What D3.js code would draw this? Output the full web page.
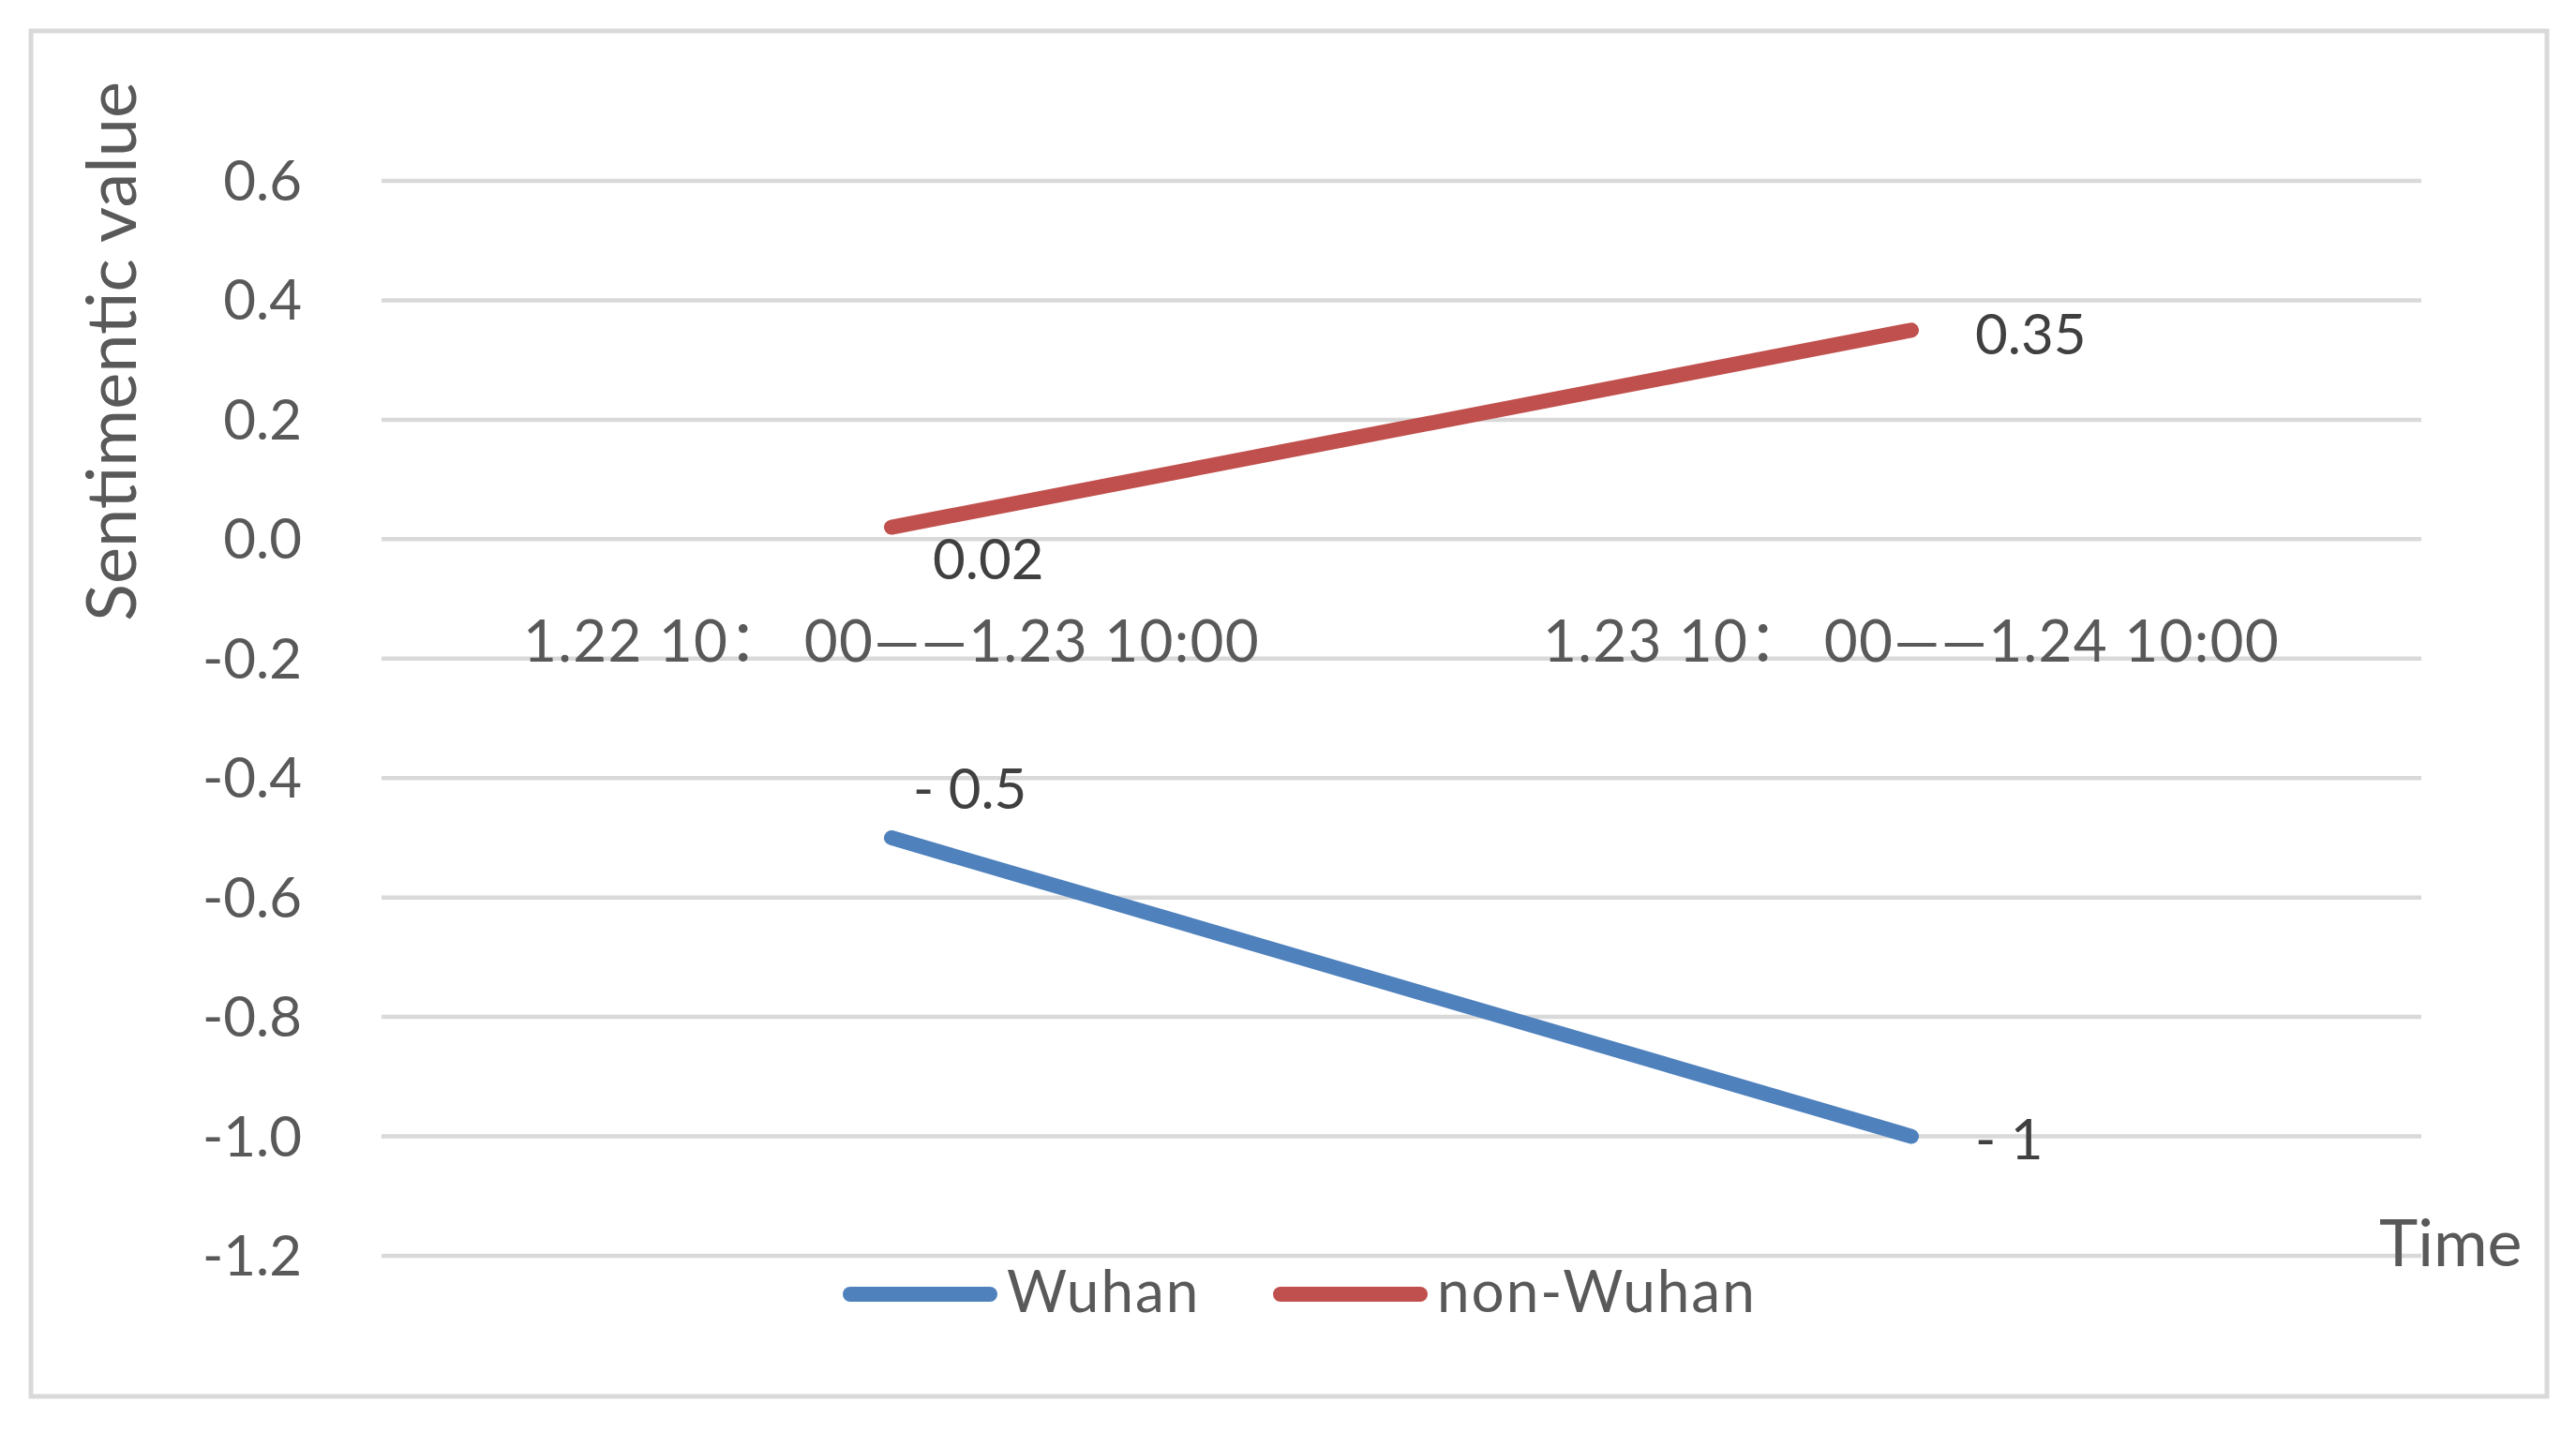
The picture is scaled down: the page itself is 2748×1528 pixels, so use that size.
<!DOCTYPE html>
<html>
<head>
<meta charset="utf-8">
<script src="https://cdn.jsdelivr.net/npm/d3@7"></script>
<style>
  body { margin: 0; background: #fff; }
  text { font-family: Lato, "Noto Sans CJK SC", sans-serif; }
</style>
</head>
<body>
<script>
// data
var categories = ["1.22 10：  00——1.23 10:00", "1.23 10：  00——1.24 10:00"];
var wuhan = [-0.5, -1];
var nonWuhan = [0.02, 0.35];
var wuhanLabels = ["- 0.5", "- 1"];
var nonWuhanLabels = ["0.02", "0.35"];
var yTicks = [-1.2, -1.0, -0.8, -0.6, -0.4, -0.2, 0.0, 0.2, 0.4, 0.6];
var seriesNames = ["Wuhan", "non-Wuhan"];

var W = 2748, H = 1528;
var plot = {left: 407, right: 2583, top: 193, bottom: 1340};

var svg = d3.select("body").append("svg")
    .attr("width", W)
    .attr("height", H);

// chart frame
svg.append("rect")
    .attr("x", 33).attr("y", 33)
    .attr("width", 2684).attr("height", 1457)
    .attr("fill", "#fff")
    .attr("stroke", "#d9d9d9")
    .attr("stroke-width", 5);

var x = d3.scalePoint().domain(categories).range([plot.left, plot.right]).padding(0.5);
var y = d3.scaleLinear().domain([-1.2, 0.6]).range([plot.bottom, plot.top]);
var fmt = function(d) { return d3.format(".1f")(d).replace("−", "-"); };

// gridlines
svg.append("g").selectAll("line")
    .data(yTicks).enter().append("line")
    .attr("x1", plot.left).attr("x2", plot.right)
    .attr("y1", function(d) { return y(d); })
    .attr("y2", function(d) { return y(d); })
    .attr("stroke", "#d9d9d9")
    .attr("stroke-width", 4.5);

// y tick labels
svg.append("g").selectAll("text")
    .data(yTicks).enter().append("text")
    .attr("x", 322)
    .attr("y", function(d) { return y(d) + 21; })
    .attr("text-anchor", "end")
    .attr("fill", "#595959")
    .style("font-size", "60px")
    .text(fmt);

// category labels (axis crosses at 0)
svg.append("g").selectAll("text")
    .data(categories).enter().append("text")
    .attr("x", function(d) { return x(d); })
    .attr("y", y(0) + 131)
    .attr("text-anchor", "middle")
    .attr("fill", "#595959")
    .style("font-size", "62px")
    .style("letter-spacing", "1.3px")
    .text(function(d) { return d; });

// axis titles
svg.append("text")
    .attr("transform", "translate(145,375) rotate(-90)")
    .attr("text-anchor", "middle")
    .attr("fill", "#595959")
    .style("font-size", "74px")
    .text("Sentimentic value");

svg.append("text")
    .attr("x", 2538).attr("y", 1351)
    .attr("fill", "#595959")
    .style("font-size", "70px")
    .text("Time");

// lines
var line = d3.line()
    .x(function(d, i) { return x(categories[i]); })
    .y(function(d) { return y(d); });

svg.append("path")
    .attr("d", line(wuhan))
    .attr("fill", "none")
    .attr("stroke", "#4f81bd")
    .attr("stroke-width", 16)
    .attr("stroke-linecap", "round");

svg.append("path")
    .attr("d", line(nonWuhan))
    .attr("fill", "none")
    .attr("stroke", "#c0504d")
    .attr("stroke-width", 16)
    .attr("stroke-linecap", "round");

// data labels
var wuhanOff = [[23, -31], [68, 24]];
var nonWuhanOff = [[44, 55], [68, 26]];

svg.append("g").selectAll("text")
    .data(wuhan).enter().append("text")
    .attr("x", function(d, i) { return x(categories[i]) + wuhanOff[i][0]; })
    .attr("y", function(d, i) { return y(d) + wuhanOff[i][1]; })
    .attr("fill", "#404040")
    .style("font-size", "60px")
    .text(function(d, i) { return wuhanLabels[i]; });

svg.append("g").selectAll("text")
    .data(nonWuhan).enter().append("text")
    .attr("x", function(d, i) { return x(categories[i]) + nonWuhanOff[i][0]; })
    .attr("y", function(d, i) { return y(d) + nonWuhanOff[i][1]; })
    .attr("fill", "#404040")
    .style("font-size", "60px")
    .text(function(d, i) { return nonWuhanLabels[i]; });

// legend
var legendX = [899, 1358];
var legendColors = ["#4f81bd", "#c0504d"];
var lg = svg.append("g").selectAll("g")
    .data(seriesNames).enter().append("g");

lg.append("line")
    .attr("x1", function(d, i) { return legendX[i] + 8; })
    .attr("x2", function(d, i) { return legendX[i] + 157; })
    .attr("y1", 1381).attr("y2", 1381)
    .attr("stroke", function(d, i) { return legendColors[i]; })
    .attr("stroke-width", 16)
    .attr("stroke-linecap", "round");

lg.append("text")
    .attr("x", function(d, i) { return legendX[i] + 175; })
    .attr("y", 1400)
    .attr("fill", "#595959")
    .style("font-size", "62px")
    .style("letter-spacing", "2px")
    .text(function(d) { return d; });
</script>
</body>
</html>
